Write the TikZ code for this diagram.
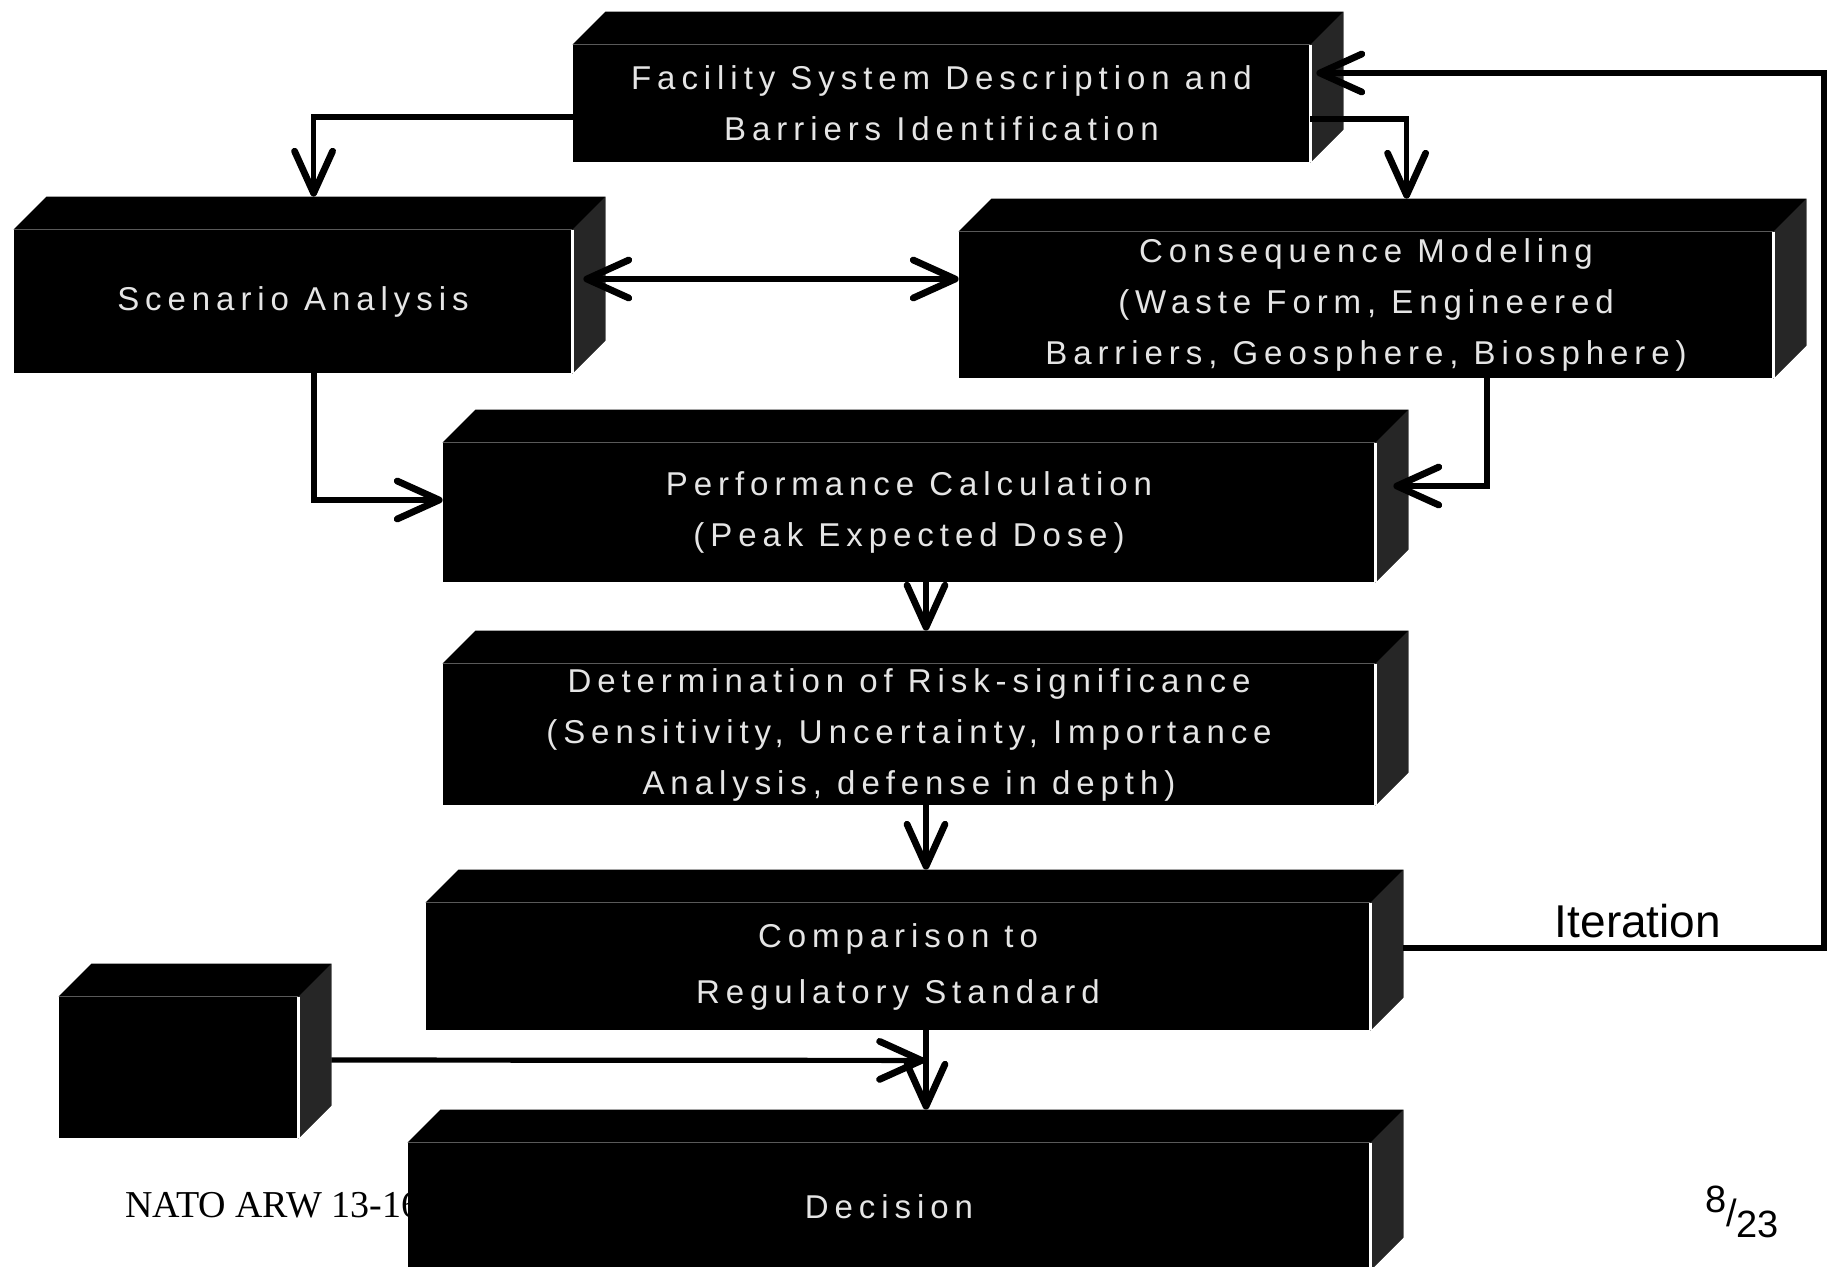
\documentclass[tikz,border=0pt]{standalone}
\usepackage{fontspec}
\setmainfont{Liberation Serif}
\setsansfont{Liberation Sans}
\newfontfamily\boxfont[LetterSpace=18]{Liberation Sans}
\usetikzlibrary{arrows.meta}

\begin{document}
\begin{tikzpicture}[
    x=0.5pt, y=-0.5pt,
    blk/.style={fill=black, text=white!90!black, align=center, inner sep=0pt,
      font=\boxfont\fontsize{16.5}{25.5}\selectfont},
    line/.style={-{Straight Barb[length=21pt,width=19pt,line width=3.4pt,round]}, line width=2.6pt},
    dline/.style={{Straight Barb[length=21pt,width=19pt,line width=3.4pt,round]}-{Straight Barb[length=21pt,width=19pt,line width=3.4pt,round]}, line width=2.6pt},
  ]
  \fill[white] (0,0) rectangle (1839,1266);
  \useasboundingbox (0,0) rectangle (1839,1266);

  % footer text, partly hidden by the last box
  \node[anchor=base west, font=\fontsize{19}{19}\selectfont, inner sep=0pt] (nato) at (125,1217) {NATO ARW 13-16};
  \node[font=\sffamily\fontsize{19}{19}\selectfont] (pg) at (1742,1212) {\raisebox{0.35em}{8}/\raisebox{-0.3em}{23}};

  % front faces
  \node[blk, minimum width=368.5pt, minimum height=58.5pt] (fac) at (941.5,103.5) {Facility System Description and\\Barriers Identification};
  \node[blk, minimum width=279pt, minimum height=71.5pt] (scen) at (293,301.5) {Scenario Analysis};
  \node[blk, minimum width=407pt, minimum height=73pt] (cons) at (1366,305) {Consequence Modeling\\(Waste Form, Engineered\\Barriers, Geosphere, Biosphere)};
  \node[blk, minimum width=466pt, minimum height=69.5pt] (perf) at (909,512.5) {Performance Calculation\\(Peak Expected Dose)};
  \node[blk, minimum width=466pt, minimum height=70.5pt] (risk) at (909,734.5) {Determination of Risk-significance\\(Sensitivity, Uncertainty, Importance\\Analysis, defense in depth)};
  \node[blk, minimum width=472pt, minimum height=63.5pt, font=\boxfont\fontsize{16.5}{28}\selectfont] (comp) at (898,966.5) {Comparison to\\Regulatory Standard};
  \node[blk, minimum width=119.5pt, minimum height=70.5pt] (aux) at (178.5,1067.5) {};
  \node[blk, minimum width=481pt, minimum height=63.5pt] (dec) at (889,1206.5) {Decision};

  % top and side faces
  \foreach \n in {fac,scen,cons,perf,risk,comp,aux,dec} {
    \fill[black] (\n.north west) -- ++(33,-33) -- ([shift={(33,-33)}]\n.north east)
      -- ([shift={(33,-33)}]\n.south east) -- (\n.south east) -- (\n.north east) -- cycle;
    \fill[black!85] (\n.north east) -- ([shift={(33,-33)}]\n.north east)
      -- ([shift={(33,-33)}]\n.south east) -- (\n.south east) -- cycle;
    \draw[white, line width=1.2pt] (\n.north east) -- (\n.south east);
  }

  \coordinate (iter) at (1824,73);
  \node[anchor=base, inner sep=0pt, font=\sffamily\fontsize{23}{23}\selectfont] (itlab) at (1638,937) {Iteration};

  \draw[line] ([shift={(0,13.5)}]fac.west) -| ([shift={(300,-33)}]scen.north west);
  \draw[line] ([shift={(0,15.5)}]fac.east) -| ([shift={(448,-33)}]cons.north west);
  \draw[dline] ([shift={(11,-22.5)}]scen.east) -- ([shift={(0,-26)}]cons.west);
  \draw[line] ([shift={(21,0)}]scen.south) |- ([shift={(0,-12.5)}]perf.west);
  \draw[line] ([shift={(121,0)}]cons.south) |- ([shift={(18,-26.5)}]perf.east);
  \draw[line] ([shift={(17,0)}]perf.south) -- ([shift={(17,-33)}]risk.north);
  \draw[line] ([shift={(17,0)}]risk.south) -- ([shift={(28,-33)}]comp.north);
  \draw[line] ([shift={(28,0)}]comp.south) -- ([shift={(37,-33)}]dec.north);
  \draw[line] ([shift={(33,-7.5)}]aux.east) -- ([shift={(27,30)}]comp.south);
  \draw[line] ([shift={(33,-18.5)}]comp.east) -| (iter) -- ([shift={(6,-30.5)}]fac.east);
\end{tikzpicture}
\end{document}
